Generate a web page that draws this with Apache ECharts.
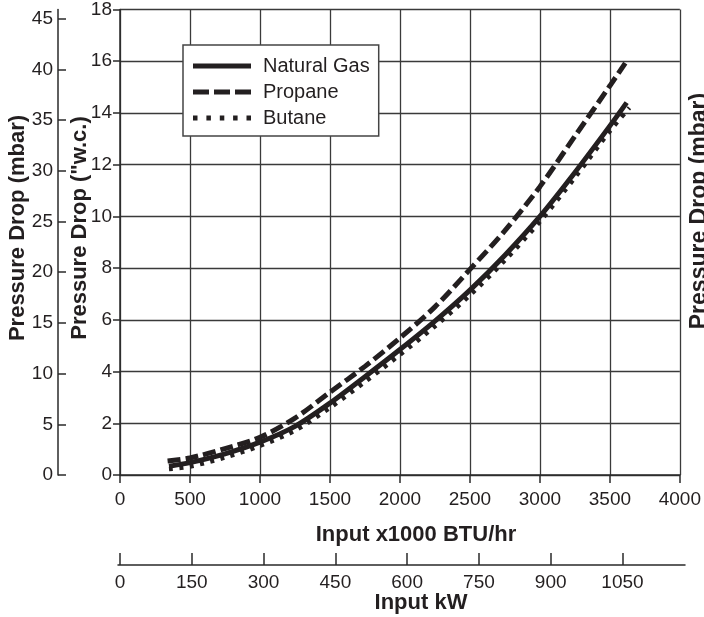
<!DOCTYPE html>
<html><head><meta charset="utf-8">
<script src="https://cdn.jsdelivr.net/npm/echarts@6/dist/echarts.min.js"></script>
<style>html,body{margin:0;padding:0;background:#fff}#c{width:704px;height:617px}</style>
</head><body><div id="c"></div>
<script>
// ---- data ----
const seriesNames = ['Natural Gas', 'Propane', 'Butane'];
const ngInput = [350, 500, 750, 1000, 1250, 1500, 1750, 2000, 2250, 2500, 2750, 3000, 3250, 3500, 3620];
const ngDrop  = [0.34, 0.48, 0.82, 1.27, 1.88, 2.78, 3.8, 4.85, 5.95, 7.15, 8.5, 10.0, 11.7, 13.5, 14.4];
const propaneInput = [340, 500, 750, 1000, 1250, 1500, 1750, 2000, 2250, 2500, 2750, 3000, 3250, 3500, 3610];
const propaneDrop  = [0.54, 0.66, 1.02, 1.46, 2.2, 3.2, 4.2, 5.3, 6.5, 7.95, 9.45, 11.15, 13.1, 15.05, 15.93];
const butaneInput = [350, 500, 750, 1000, 1250, 1500, 1750, 2000, 2250, 2500, 2750, 3000, 3250, 3500, 3640];
const butaneDrop  = [0.23, 0.33, 0.68, 1.13, 1.72, 2.6, 3.6, 4.65, 5.75, 6.95, 8.3, 9.8, 11.5, 13.3, 14.2];
const kwTicks = [0, 150, 300, 450, 600, 750, 900, 1050];
const mbarTicks = [0, 5, 10, 15, 20, 25, 30, 35, 40, 45];

const FONT = 'Liberation Sans, Arial, Helvetica, sans-serif';
const INK = '#231f20';
const zip = (xs, ys) => xs.map((x, i) => [x, ys[i]]);
const plain = v => String(v);

// axis geometry
const plotLeft = 120, plotWidth = 561;
const btuMax = 4000;
const kwPerKbtu = 1 / 3.41214;
const pxPerKw = plotWidth / (btuMax * kwPerKbtu);
const kwGridLeft = 118, kwGridRight = 685;
const kwMin = -(plotLeft - kwGridLeft) / pxPerKw;
const kwMax = (kwGridRight - plotLeft) / pxPerKw;

const axisLineStyle = { color: '#2a2a2a', width: 1.5 };
const gridLineStyle = { color: '#3a3a3a', width: 1.3 };
const labelStyle = { fontSize: 19, color: INK, fontFamily: FONT, formatter: plain };

// legend icons (line samples as filled paths)
const iconSolid = 'path://M0,0H58V5H0Z';
const iconDashed = 'path://M0,0H16V5H0Z M21,0H37V5H21Z M42,0H58V5H42Z';
const iconDotted = 'path://M0,0H4.5V5H0Z M13.4,0H17.9V5H13.4Z M26.8,0H31.3V5H26.8Z M40.1,0H44.6V5H40.1Z M53.5,0H58V5H53.5Z';

const chart = echarts.init(document.getElementById('c'), null, { renderer: 'canvas' });
chart.setOption({
  animation: false,
  backgroundColor: '#fff',
  grid: [
    { left: plotLeft, top: 9, width: plotWidth, height: 466 },
    { left: kwGridLeft, top: 555, width: kwGridRight - kwGridLeft, height: 10 }
  ],
  xAxis: [
    {
      gridIndex: 0, type: 'value', min: 0, max: btuMax, interval: 500,
      axisLine: { show: true, lineStyle: axisLineStyle },
      axisTick: { show: true, length: 8, lineStyle: axisLineStyle },
      axisLabel: Object.assign({ margin: 15 }, labelStyle),
      splitLine: { show: true, lineStyle: gridLineStyle }
    },
    {
      gridIndex: 1, type: 'value', min: kwMin, max: kwMax, position: 'bottom',
      axisLine: { show: true, lineStyle: axisLineStyle },
      axisTick: { show: true, inside: true, length: 12, customValues: kwTicks, lineStyle: axisLineStyle },
      axisLabel: Object.assign({ margin: 8, customValues: kwTicks }, labelStyle),
      splitLine: { show: false }
    }
  ],
  yAxis: [
    {
      gridIndex: 0, type: 'value', min: 0, max: 18, interval: 2, position: 'left',
      axisLine: { show: true, lineStyle: axisLineStyle },
      axisTick: { show: true, length: 7, lineStyle: axisLineStyle },
      axisLabel: Object.assign({ margin: 8 }, labelStyle),
      splitLine: { show: true, lineStyle: gridLineStyle }
    },
    {
      gridIndex: 0, type: 'value', min: 0, max: 45.9, position: 'left', offset: 62,
      axisLine: { show: true, lineStyle: axisLineStyle },
      axisTick: { show: true, inside: true, length: 8, customValues: mbarTicks, lineStyle: axisLineStyle },
      axisLabel: Object.assign({ margin: 5, customValues: mbarTicks }, labelStyle),
      splitLine: { show: false }
    },
    { gridIndex: 1, type: 'value', min: 0, max: 1, show: false }
  ],
  legend: {
    orient: 'vertical', left: 183, top: 45,
    itemWidth: 58, itemHeight: 5, itemGap: 4,
    padding: [10, 9, 7, 10],
    backgroundColor: '#fff', borderColor: '#444', borderWidth: 1.5,
    textStyle: { fontSize: 20, color: INK, fontFamily: FONT, lineHeight: 22, padding: [0, 0, 0, 7] },
    data: [
      { name: seriesNames[0], icon: iconSolid },
      { name: seriesNames[1], icon: iconDashed },
      { name: seriesNames[2], icon: iconDotted }
    ]
  },
  series: [
    {
      name: seriesNames[0], type: 'line', data: zip(ngInput, ngDrop), symbol: 'none', smooth: 0.3,
      itemStyle: { color: INK },
      lineStyle: { color: INK, width: 5, type: 'solid', cap: 'butt' }, z: 3
    },
    {
      name: seriesNames[1], type: 'line', data: zip(propaneInput, propaneDrop), symbol: 'none', smooth: 0.3,
      itemStyle: { color: INK },
      lineStyle: { color: INK, width: 5, type: [13, 5], cap: 'butt' }, z: 2
    },
    {
      name: seriesNames[2], type: 'line', data: zip(butaneInput, butaneDrop), symbol: 'none', smooth: 0.3,
      itemStyle: { color: INK },
      lineStyle: { color: INK, width: 4.5, type: [4, 6.5], cap: 'butt' }, z: 2
    }
  ],
  graphic: [
    { type: 'text', x: 18, y: 228, rotation: Math.PI / 2,
      style: { text: 'Pressure Drop (mbar)', font: 'bold 22px ' + FONT, fill: INK, align: 'center', verticalAlign: 'middle' } },
    { type: 'text', x: 80, y: 228, rotation: Math.PI / 2,
      style: { text: 'Pressure Drop ("w.c.)', font: 'bold 22px ' + FONT, fill: INK, align: 'center', verticalAlign: 'middle' } },
    { type: 'text', x: 700, y: 211, rotation: Math.PI / 2,
      style: { text: 'Pressure Drop (mbar)', font: 'bold 23px ' + FONT, fill: INK, align: 'center', verticalAlign: 'middle' } },
    { type: 'text', x: 416, y: 535,
      style: { text: 'Input x1000 BTU/hr', font: 'bold 22px ' + FONT, fill: INK, align: 'center', verticalAlign: 'middle' } },
    { type: 'text', x: 421, y: 603,
      style: { text: 'Input kW', font: 'bold 22px ' + FONT, fill: INK, align: 'center', verticalAlign: 'middle' } }
  ]
});
</script>
</body></html>
